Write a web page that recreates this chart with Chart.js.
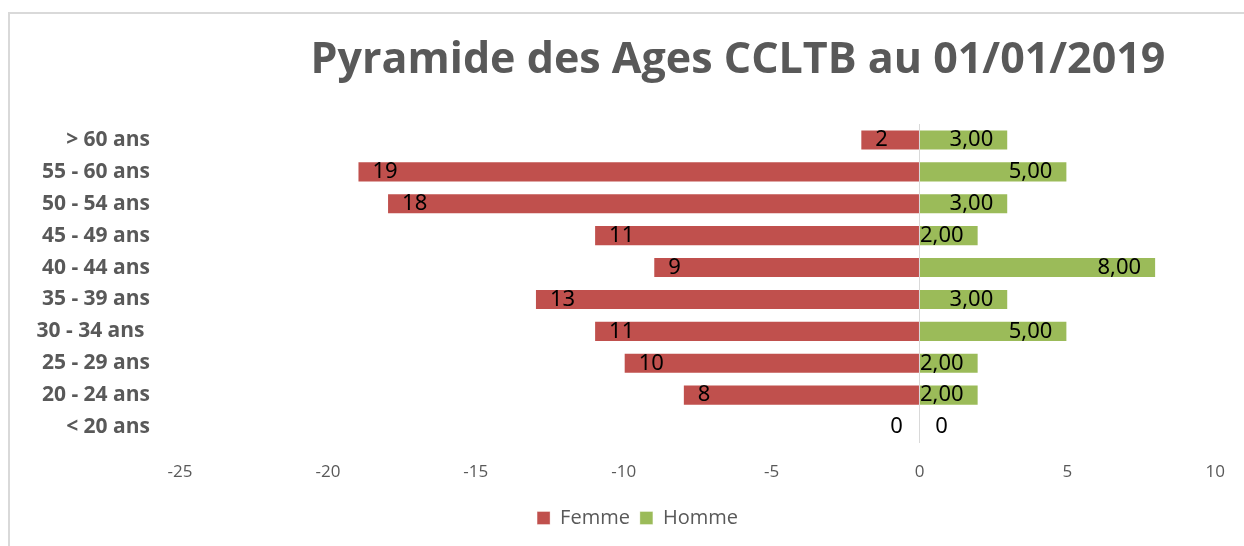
<!DOCTYPE html>
<html lang="fr">
<head>
<meta charset="utf-8">
<title>Pyramide des Ages CCLTB</title>
<script src="https://cdn.jsdelivr.net/npm/chart.js@4/dist/chart.umd.min.js"></script>
<style>
    html, body { margin: 0; padding: 0; background: #fff; overflow: hidden; }
    #cadre {
        position: absolute; left: 8px; top: 12px;
        width: 1300px; height: 600px;
        border: 2px solid #d9d9d9; box-sizing: border-box;
    }
    #wrap { position: absolute; left: 0; top: 0; width: 1244px; height: 546px; }
</style>
</head>
<body>
<div id="cadre"></div>
<div id="wrap"><canvas id="pyramide"></canvas></div>
<script>
// Données
const tranches = ['> 60 ans', '55 - 60 ans', '50 - 54 ans', '45 - 49 ans', '40 - 44 ans',
                  '35 - 39 ans', '30 - 34 ans ', '25 - 29 ans', '20 - 24 ans', '< 20 ans'];
const femmes = [2, 19, 18, 11, 9, 13, 11, 10, 8, 0];
const hommes = [3, 5, 3, 2, 8, 3, 5, 2, 2, 0];
const graduations = [-25, -20, -15, -10, -5, 0, 5, 10];

const titre = 'Pyramide des Ages CCLTB au 01/01/2019';
const gris = '#595959';

Chart.defaults.font.family = "'Open Sans', 'Noto Sans', sans-serif";
Chart.defaults.color = gris;

// Titre dessiné à la main (décalé vers la droite comme l'original)
const titrePlugin = {
    id: 'titre',
    afterDraw(chart) {
        const ctx = chart.ctx;
        ctx.save();
        ctx.font = "bold 43px 'Open Sans', sans-serif";
        ctx.fillStyle = gris;
        ctx.textAlign = 'center';
        ctx.textBaseline = 'middle';
        ctx.fillText(titre, 738, 61);
        ctx.restore();
    }
};

// La légende est un peu décalée vers la droite dans l'original
const decalageLegende = {
    id: 'decalageLegende',
    afterLayout(chart) {
        if (!chart.legend) return;
        chart.legend.left += 27;
        chart.legend.right += 27;
    }
};

// Étiquettes de données
const etiquettesPlugin = {
    id: 'etiquettes',
    afterDatasetsDraw(chart) {
        const ctx = chart.ctx;
        const x = chart.scales.x;
        const zero = x.getPixelForValue(0);
        ctx.save();
        ctx.font = "22px 'Noto Sans', sans-serif";
        ctx.fillStyle = '#000';
        ctx.textBaseline = 'middle';

        chart.getDatasetMeta(0).data.forEach((bar, i) => {
            const v = femmes[i];
            if (v === 0) {
                ctx.textAlign = 'center';
                ctx.fillText('0', zero - 23, bar.y);
            } else {
                ctx.textAlign = 'left';
                ctx.fillText(String(v), x.getPixelForValue(-v) + 15, bar.y);
            }
        });

        chart.getDatasetMeta(1).data.forEach((bar, i) => {
            const v = hommes[i];
            if (v === 0) {
                ctx.textAlign = 'center';
                ctx.fillText('0', zero + 22, bar.y);
            } else {
                ctx.textAlign = 'right';
                ctx.fillText(v.toFixed(2).replace('.', ','), x.getPixelForValue(v) - 15, bar.y);
            }
        });
        ctx.restore();
    }
};

const ctx = document.getElementById('pyramide').getContext('2d');
new Chart(ctx, {
    type: 'bar',
    data: {
        labels: tranches,
        datasets: [{
            label: 'Femme',
            data: femmes.map(v => -v),
            backgroundColor: '#c0504d',
            borderColor: 'rgba(255, 255, 255, 0.35)',
            borderWidth: 1,
            categoryPercentage: 1,
            barPercentage: 0.66
        }, {
            label: 'Homme',
            data: hommes,
            backgroundColor: '#9bbb59',
            borderColor: 'rgba(255, 255, 255, 0.35)',
            borderWidth: 1,
            categoryPercentage: 1,
            barPercentage: 0.66
        }]
    },
    options: {
        indexAxis: 'y',
        responsive: true,
        maintainAspectRatio: false,
        animation: false,
        layout: {
            padding: { top: 124, right: 23, bottom: 8, left: 0 }
        },
        plugins: {
            title: { display: false },
            tooltip: { enabled: false },
            legend: {
                position: 'bottom',
                labels: {
                    boxWidth: 13,
                    boxHeight: 13,
                    padding: 10,
                    color: gris,
                    font: { size: 20 }
                }
            }
        },
        scales: {
            x: {
                stacked: true,
                min: -25,
                max: 10,
                afterBuildTicks(scale) {
                    scale.ticks = graduations.map(v => ({ value: v }));
                },
                afterFit(scale) {
                    scale.height = 55;
                },
                border: { display: false },
                grid: {
                    drawTicks: false,
                    color: c => (c.tick && c.tick.value === 0) ? '#d9d9d9' : 'rgba(0,0,0,0)'
                },
                ticks: {
                    padding: 19,
                    color: gris,
                    font: { size: 17 }
                }
            },
            y: {
                stacked: true,
                afterFit(scale) {
                    scale.width = 180;
                },
                border: { display: false },
                grid: { display: false, drawTicks: false },
                ticks: {
                    padding: 30,
                    color: gris,
                    font: { size: 21, weight: 'bold' }
                }
            }
        }
    },
    plugins: [titrePlugin, decalageLegende, etiquettesPlugin]
});
</script>
</body>
</html>
